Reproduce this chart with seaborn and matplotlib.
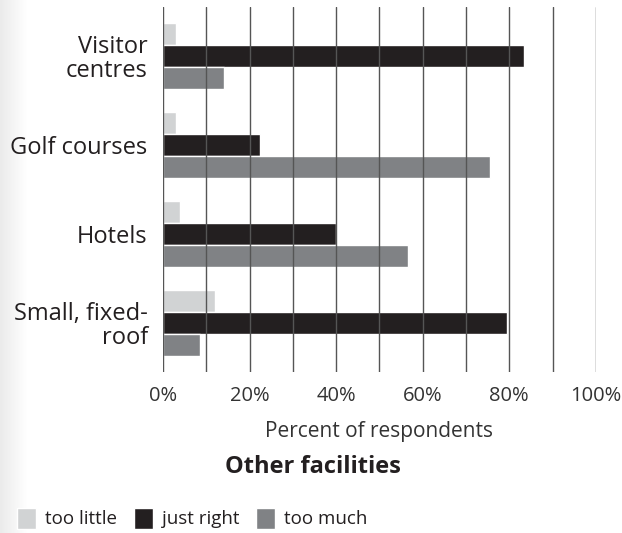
import numpy as np
import pandas as pd
import matplotlib
matplotlib.use("Agg")
import matplotlib.pyplot as plt
import seaborn as sns
from matplotlib import ticker

# data
facilities = ["Visitor\ncentres", "Golf courses", "Hotels", "Small, fixed-\nroof"]
responses = ["too little", "just right", "too much"]
too_little = [3, 3, 4, 12]
just_right = [83.5, 22.5, 40, 79.5]
too_much = [14, 75.5, 56.5, 8.5]
x_ticks = [0, 20, 40, 60, 80, 100]
x_tick_labels = ["0%", "20%", "40%", "60%", "80%", "100%"]

colors = ["#d1d3d4", "#231f20", "#808285"]

df = pd.DataFrame({
    "facility": facilities * 3,
    "response": np.repeat(responses, len(facilities)),
    "percent": too_little + just_right + too_much,
})

sns.set_style("white")
plt.rcParams["font.family"] = ["Open Sans", "DejaVu Sans"]

fig = plt.figure(figsize=(6.22, 5.33), dpi=100)

# faint grey strip at the left edge
strip = fig.add_axes([0, 0, 0.045, 1])
grad = np.linspace(0.92, 1.0, 64).reshape(1, -1)
strip.imshow(grad, cmap="gray", vmin=0, vmax=1, aspect="auto")
strip.axis("off")

ax = fig.add_axes([0.262, 0.302, 0.696, 0.685])
sns.barplot(data=df, y="facility", x="percent", hue="response", orient="h",
            order=facilities, hue_order=responses, palette=colors,
            width=0.75, saturation=1, ax=ax, legend=True)

ax.set_xlim(0, 100)
ax.set_ylim(3.55, -0.55)
ax.xaxis.set_major_locator(ticker.FixedLocator(x_ticks))
ax.xaxis.set_major_formatter(ticker.FixedFormatter(x_tick_labels))
ax.xaxis.set_minor_locator(ticker.MultipleLocator(10))
ax.set_axisbelow(False)
ax.grid(True, axis="x", which="both", color="#555555", linewidth=1.0)
ax.grid(False, axis="y")
for side in ["top", "right", "bottom", "left"]:
    ax.spines[side].set_visible(False)

ax.tick_params(axis="x", which="both", length=0, pad=10, labelsize=14.5, labelcolor="#333333")
ax.tick_params(axis="y", length=0, pad=11, labelsize=17, labelcolor="#231f20")
for lbl in ax.get_yticklabels():
    lbl.set_linespacing(1.0)

ax.set_ylabel("")
ax.set_xlabel("Percent of respondents", fontsize=15, color="#333333", labelpad=11)

fig.text(0.503, 0.124, "Other facilities", ha="center", va="center",
         fontsize=17, fontweight="bold", color="#231f20")

handles, labels = ax.get_legend_handles_labels()
ax.legend_.remove()
fig.legend(handles, labels, loc="center left", bbox_to_anchor=(0.0, 0.028),
           ncol=3, frameon=False, fontsize=13.5, handlelength=1.0, handleheight=1.35,
           handletextpad=0.5, columnspacing=0.9, labelcolor="#231f20")

fig.savefig("out.png", dpi=100)
